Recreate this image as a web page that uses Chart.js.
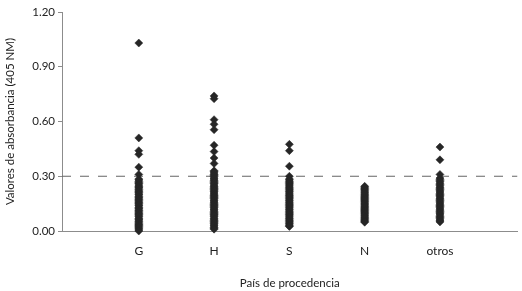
<!DOCTYPE html>
<html>
<head>
<meta charset="utf-8">
<script src="https://cdn.jsdelivr.net/npm/chart.js@4/dist/chart.umd.min.js"></script>
<style>
  html, body { margin: 0; padding: 0; background: #fff; }
  #c { display: block; }
</style>
</head>
<body>
<canvas id="c" width="522" height="291"></canvas>
<script>
// Categories (país de procedencia), positioned at 1..5 on the x axis
const categories = ["G", "H", "S", "N", "otros"];

// Absorbance values (405 nm), per category
const valuesG = [1.03, 0.51, 0.44, 0.42, 0.35, 0.31,
  0.285, 0.28, 0.272, 0.265, 0.26, 0.252, 0.245, 0.24, 0.235, 0.228, 0.22, 0.215, 0.21,
  0.203, 0.198, 0.19, 0.185, 0.18, 0.172, 0.168, 0.16, 0.155, 0.15, 0.143, 0.138, 0.13,
  0.125, 0.12, 0.113, 0.108, 0.10, 0.095, 0.09, 0.083, 0.078, 0.07, 0.065, 0.06, 0.053,
  0.048, 0.04, 0.035, 0.03, 0.024, 0.018, 0.012, 0.006, 0.00];
const valuesH = [0.74, 0.725, 0.61, 0.585, 0.555, 0.47, 0.435, 0.40, 0.37,
  0.33, 0.325, 0.318, 0.31, 0.305, 0.298, 0.29, 0.285, 0.278, 0.272, 0.265, 0.26, 0.252,
  0.245, 0.24, 0.233, 0.228, 0.22, 0.215, 0.208, 0.202, 0.195, 0.19, 0.183, 0.178, 0.17,
  0.165, 0.158, 0.152, 0.145, 0.14, 0.133, 0.128, 0.12, 0.115, 0.108, 0.102, 0.095, 0.09,
  0.083, 0.078, 0.07, 0.065, 0.058, 0.052, 0.045, 0.04, 0.033, 0.028, 0.02, 0.015, 0.01];
const valuesS = [0.475, 0.44, 0.355, 0.30,
  0.285, 0.28, 0.272, 0.266, 0.26, 0.253, 0.247, 0.24, 0.234, 0.228, 0.22, 0.215, 0.208,
  0.202, 0.195, 0.19, 0.183, 0.177, 0.17, 0.165, 0.158, 0.152, 0.145, 0.14, 0.133, 0.127,
  0.12, 0.115, 0.108, 0.102, 0.095, 0.09, 0.083, 0.077, 0.07, 0.065, 0.058, 0.052, 0.045,
  0.04, 0.033, 0.028, 0.025];
const valuesN = [0.245, 0.24, 0.233, 0.227, 0.22, 0.214, 0.208, 0.202, 0.196, 0.19,
  0.184, 0.178, 0.172, 0.166, 0.16, 0.154, 0.148, 0.142, 0.136, 0.13, 0.124, 0.118,
  0.112, 0.106, 0.10, 0.094, 0.088, 0.082, 0.076, 0.07, 0.064, 0.058, 0.052, 0.048];
const valuesOtros = [0.46, 0.39, 0.31,
  0.29, 0.283, 0.276, 0.27, 0.262, 0.255, 0.248, 0.24, 0.234, 0.227, 0.22, 0.214, 0.207,
  0.20, 0.194, 0.187, 0.18, 0.174, 0.167, 0.16, 0.154, 0.147, 0.14, 0.134, 0.127, 0.12,
  0.114, 0.107, 0.10, 0.094, 0.087, 0.08, 0.074, 0.067, 0.06, 0.055, 0.05];

// Reference (cut-off) line value
const cutoff = 0.30;
const yTicks = [0.00, 0.30, 0.60, 0.90, 1.20];

const seriesByCategory = [valuesG, valuesH, valuesS, valuesN, valuesOtros];
const points = [];
seriesByCategory.forEach((vals, i) => {
  vals.forEach(v => points.push({ x: i + 1, y: v }));
});

const axisColor = "#8c8c8c";
const textColor = "#222222";
const fontFamily = "Lato, 'Open Sans', sans-serif";

new Chart(document.getElementById("c"), {
  type: "scatter",
  data: {
    datasets: [
      {
        type: "line",
        data: [{ x: -0.02, y: cutoff }, { x: 6.03, y: cutoff }],
        borderColor: "#666666",
        borderWidth: 1,
        borderDash: [9, 9],
        pointRadius: 0,
        fill: false,
        order: 2
      },
      {
        data: points,
        pointStyle: "rectRot",
        pointRadius: 4,
        pointBackgroundColor: "#262626",
        pointBorderColor: "#262626",
        pointBorderWidth: 0.5,
        clip: false,
        order: 1
      }
    ]
  },
  options: {
    responsive: false,
    animation: false,
    devicePixelRatio: 1,
    layout: { padding: { top: 12, right: 2, bottom: 0, left: 0 } },
    plugins: { legend: { display: false }, tooltip: { enabled: false } },
    scales: {
      x: {
        type: "linear",
        min: -0.02,
        max: 6.03,
        afterFit: s => { s.height = 60; },
        afterBuildTicks: s => { s.ticks = categories.map((c, i) => ({ value: i + 1 })); },
        grid: { drawOnChartArea: false, drawTicks: false, color: axisColor },
        border: { display: true, color: axisColor, width: 1 },
        ticks: {
          padding: 13,
          color: textColor,
          font: { family: fontFamily, size: 12 },
          callback: v => categories[Math.round(v) - 1] || ""
        },
        title: {
          display: true,
          text: "País de procedencia",
          color: textColor,
          font: { family: fontFamily, size: 11.5 },
          padding: { top: 0, bottom: 1 }
        }
      },
      y: {
        min: 0,
        max: 1.2,
        afterFit: s => { s.width = 62; },
        afterBuildTicks: s => { s.ticks = yTicks.map(v => ({ value: v })); },
        grid: { drawOnChartArea: false, drawTicks: true, tickLength: 4, color: axisColor },
        border: { display: true, color: axisColor, width: 1 },
        ticks: {
          padding: 3,
          color: textColor,
          font: { family: fontFamily, size: 11.5 },
          callback: v => Number(v).toFixed(2)
        },
        title: {
          display: true,
          text: "Valores de absorbancia (405 NM)",
          color: textColor,
          font: { family: fontFamily, size: 11.5 },
          padding: { top: 3, bottom: 0 }
        }
      }
    }
  }
});
</script>
</body>
</html>
